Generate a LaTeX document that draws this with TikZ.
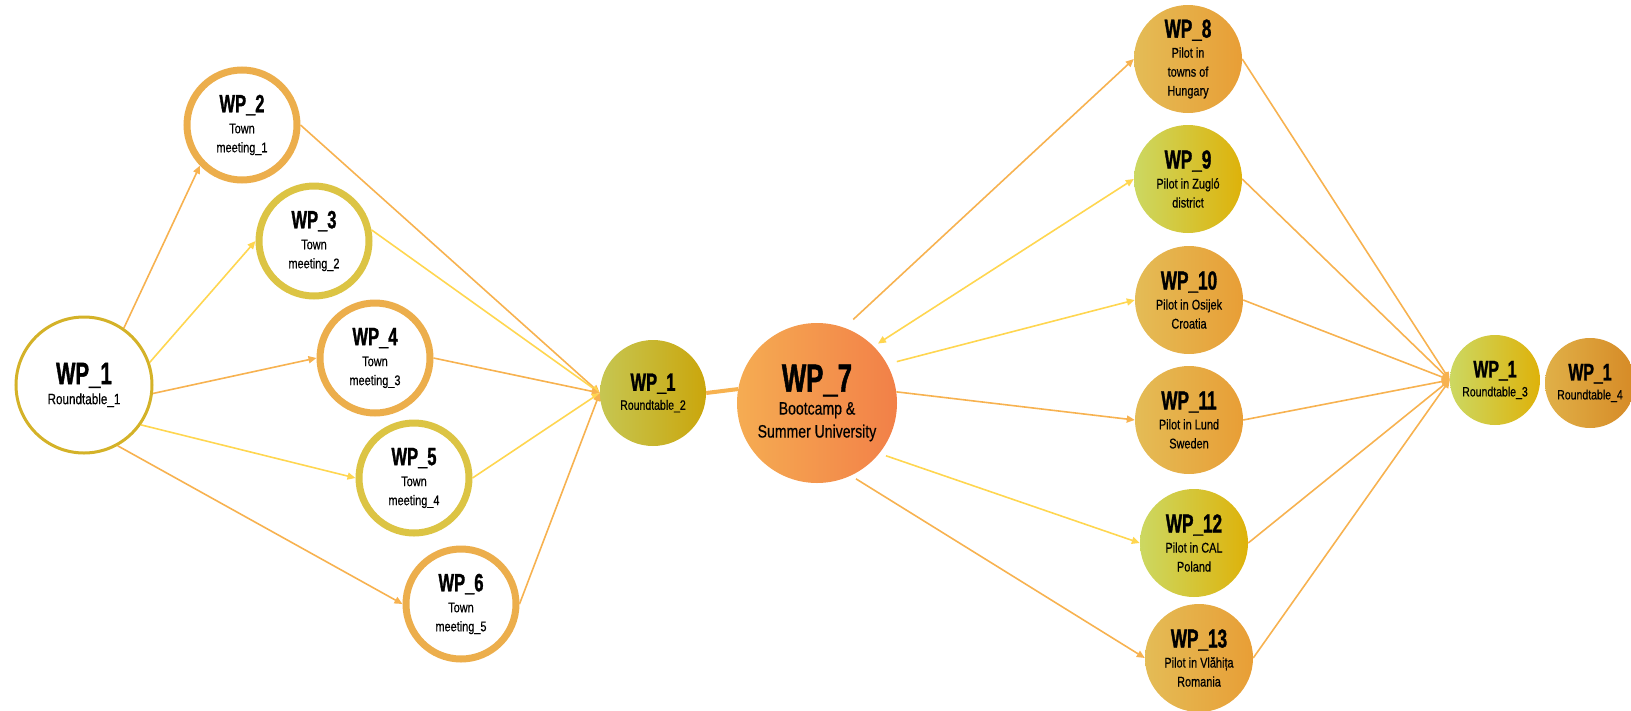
\documentclass[tikz,border=0pt]{standalone}
\usepackage{fontspec}
\setmainfont{Liberation Sans}
\newfontfamily\tfont{Liberation Sans}[FakeStretch=0.66, FakeBold=1.2]
\newfontfamily\sfont{Liberation Sans}[FakeStretch=0.78, FakeBold=0.5]
\usetikzlibrary{arrows.meta}
\definecolor{oline}{RGB}{247,178,80}
\definecolor{yline}{RGB}{255,214,80}
\definecolor{ringGold}{RGB}{212,178,40}
\definecolor{ringO}{RGB}{236,174,76}
\definecolor{ringY}{RGB}{220,196,68}
\definecolor{rtwoL}{RGB}{198,198,82}
\definecolor{rtwoR}{RGB}{202,166,12}
\definecolor{sevL}{RGB}{245,172,82}
\definecolor{sevR}{RGB}{242,128,72}
\definecolor{pOL}{RGB}{228,188,86}
\definecolor{pOR}{RGB}{232,158,54}
\definecolor{pYL}{RGB}{204,216,98}
\definecolor{pYR}{RGB}{222,178,10}
\definecolor{fourL}{RGB}{224,176,72}
\definecolor{fourR}{RGB}{214,138,38}
\newcommand\ttl[2]{{\tfont\bfseries\fontsize{#1}{#1}\selectfont #2}}
\tikzset{
  town/.style={circle, inner sep=0pt, align=center, minimum size=110pt,
    line width=7pt, draw=#1, fill=white, font=\sfont\fontsize{14}{19}\selectfont},
  pilot/.style 2 args={circle, inner sep=0pt, align=center, minimum size=108pt,
    left color=#1, right color=#2, font=\sfont\fontsize{14}{19}\selectfont},
  oarr/.style={draw=oline, line width=1.6pt, -{Triangle[length=8pt,width=7pt]}},
  yarr/.style={draw=yline, line width=1.6pt, -{Triangle[length=8pt,width=7pt]}},
  thickline/.style={draw=oline, line width=4pt}
}
\begin{document}
\begin{tikzpicture}[x=1pt,y=-1pt]
\useasboundingbox (0,0) rectangle (1631,710);
\clip (0,0) rectangle (1631,710);
% left part
\node[circle, inner sep=0pt, align=center, minimum size=136pt, line width=3pt,
  draw=ringGold, fill=white, font=\sfont\fontsize{15}{19}\selectfont]
  (R1) at (84,385) {\ttl{31}{WP\_1}\\[1pt]Roundtable\_1};
\node[town=ringO] (WP2) at (242,125) {\ttl{25}{WP\_2}\\[2pt]Town\\meeting\_1};
\node[town=ringY] (WP3) at (314,241) {\ttl{25}{WP\_3}\\[2pt]Town\\meeting\_2};
\node[town=ringO] (WP4) at (375,358) {\ttl{25}{WP\_4}\\[2pt]Town\\meeting\_3};
\node[town=ringY] (WP5) at (414,478) {\ttl{25}{WP\_5}\\[2pt]Town\\meeting\_4};
\node[town=ringO] (WP6) at (461,604) {\ttl{25}{WP\_6}\\[2pt]Town\\meeting\_5};
% middle
\node[circle, inner sep=0pt, align=center, minimum size=106pt,
  left color=rtwoL, right color=rtwoR, font=\sfont\fontsize{13.5}{18}\selectfont]
  (R2) at (653,393) {\ttl{25}{WP\_1}\\[1pt]Roundtable\_2};
\node[circle, inner sep=0pt, align=center, minimum size=160pt,
  left color=sevL, right color=sevR, font=\sfont\fontsize{18}{23}\selectfont]
  (WP7) at (817,403) {\ttl{39}{WP\_7}\\[0pt]Bootcamp \&\\Summer University};
% pilots
\node[pilot={pOL}{pOR}] (WP8) at (1188,59) {\ttl{26}{WP\_8}\\[1pt]Pilot in\\towns of\\Hungary};
\node[pilot={pYL}{pYR}] (WP9) at (1188,179) {\ttl{26}{WP\_9}\\[1pt]Pilot in Zugló\\district};
\node[pilot={pOL}{pOR}] (WP10) at (1189,300) {\ttl{26}{WP\_10}\\[1pt]Pilot in Osijek\\Croatia};
\node[pilot={pOL}{pOR}] (WP11) at (1189,420) {\ttl{26}{WP\_11}\\[1pt]Pilot in Lund\\Sweden};
\node[pilot={pYL}{pYR}] (WP12) at (1194,543) {\ttl{26}{WP\_12}\\[1pt]Pilot in CAL\\Poland};
\node[pilot={pOL}{pOR}] (WP13) at (1199,658) {\ttl{26}{WP\_13}\\[1pt]Pilot in Vlăhița\\Romania};
% right
\node[circle, inner sep=0pt, align=center, minimum size=90pt,
  left color=pYL, right color=pYR, font=\sfont\fontsize{13.5}{18}\selectfont]
  (R3) at (1495,380) {\ttl{24}{WP\_1}\\[1pt]Roundtable\_3};
\node[circle, inner sep=0pt, align=center, minimum size=90pt,
  left color=fourL, right color=fourR, font=\sfont\fontsize{13.5}{18}\selectfont]
  (R4) at (1590,383) {\ttl{24}{WP\_1}\\[1pt]Roundtable\_4};
% connectors
\draw[oarr] (R1.55) -- (WP2.224);
\draw[yarr] (R1.19) -- (WP3.west);
\draw[oarr] (R1.-7) -- (WP4.west);
\draw[yarr] (R1.-35) -- (WP5.west);
\draw[oarr] (R1.-61) -- (WP6.west);
\draw[oarr] (WP2.east) -- (R2.west);
\draw[yarr] (WP3.11) -- (R2.west);
\draw[oarr] (WP4.east) -- (R2.west);
\draw[yarr] (WP5.east) -- (R2.west);
\draw[oarr] (WP6.east) -- (R2.west);
\draw[thickline] (R2.east) -- (WP7.170);
\draw[oarr, shorten <=12pt] (WP7.70) -- (WP8.west);
\draw[draw=yline, line width=1.6pt, {Triangle[length=8pt,width=7pt]}-{Triangle[length=8pt,width=7pt]}, shorten <=5pt] (WP7.45) -- (WP9.west);
\draw[yarr, shorten <=10pt] (WP7.29) -- (WP10.west);
\draw[oarr] (WP7.8) -- (WP11.west);
\draw[yarr, shorten <=7pt] (WP7.-39) -- (WP12.west);
\draw[oarr, shorten <=6pt] (WP7.-65) -- (WP13.west);
\draw[oarr] (WP8.east) -- (R3.west);
\draw[oarr] (WP9.east) -- (R3.west);
\draw[oarr] (WP10.east) -- (R3.west);
\draw[oarr] (WP11.east) -- (R3.west);
\draw[oarr] (WP12.east) -- (R3.west);
\draw[oarr] (WP13.east) -- (R3.west);
\end{tikzpicture}
\end{document}
